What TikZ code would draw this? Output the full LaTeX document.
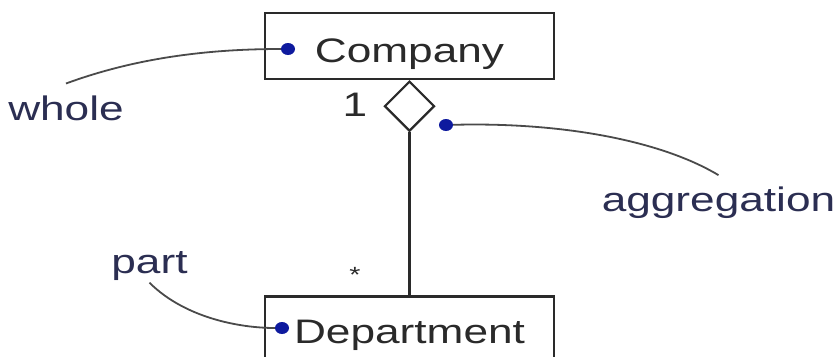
\documentclass[tikz,border=0pt]{standalone}
\usepackage{fontspec}
\setmainfont[FakeStretch=1.3]{Liberation Sans}
\usetikzlibrary{positioning,shapes.geometric}
\definecolor{navy}{HTML}{2B2E52}
\definecolor{pinblue}{HTML}{0E1A9E}
\definecolor{ink}{HTML}{2A2A2A}
\tikzstyle{every node}=[font=\fontsize{34}{40}\selectfont,text=ink]
\tikzstyle{class}=[draw=ink,line width=2.2pt,minimum width=289pt,minimum height=66pt,inner sep=0pt,text depth=0pt]
\tikzstyle{hollow}=[diamond,draw=ink,line width=2.2pt,minimum size=50pt,inner sep=0pt]
\tikzstyle{pin}=[ellipse,fill=pinblue,inner sep=0pt,minimum width=14pt,minimum height=12pt]
\tikzstyle{note}=[text=navy,inner sep=2pt]
\tikzstyle{gap}=[outer ysep=10pt]
\tikzstyle{lead}=[line width=1.8pt,draw=ink!85]

\begin{document}
\begin{tikzpicture}[x=1pt,y=-1pt]
  \useasboundingbox (0,0) rectangle (837,356);
  \clip (0,0) rectangle (837,356);
  \node [class,text height=32pt] (company) at (409.5,46) {Company};
  \node [hollow,below=0pt of company] (agg) {};
  \node [class,below=163pt of agg,minimum height=70pt,text height=24pt] (dept) {Department};
  \draw [line width=2.2pt,draw=ink] (agg.south) -- (dept.north);
  \node (one) at (355,105) {1};
  \node [font=\fontsize{22}{26}\selectfont] (many) at (355,275) {*};
  \node [note,gap] (whole) at (66,108) {whole};
  \node [note] (part) at (149.5,266) {part};
  \node [note,gap] (aggtext) at (718.5,203) {aggregation};
  \node [pin] (cpin) at (288,49) {};
  \node [pin] (apin) at (446,125) {};
  \node [pin] (dpin) at (282,328) {};
  \draw [lead] (whole.north) .. controls (130,60) and (200,49) .. (cpin);
  \draw [lead] (apin) .. controls (560,122) and (660,140) .. (aggtext.north);
  \draw [lead] (part.south) .. controls (185,318) and (240,328) .. (dpin);
\end{tikzpicture}
\end{document}
